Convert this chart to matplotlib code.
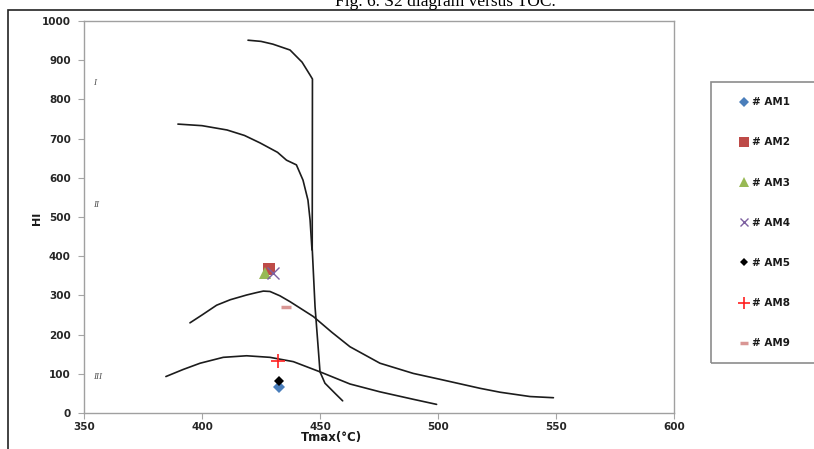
import matplotlib
matplotlib.use("Agg")
import matplotlib.pyplot as plt
from matplotlib.patches import Rectangle
from matplotlib.lines import Line2D

# kerogen type boundary curves (Tmax in degC, HI)
type1_t = [419.5, 425, 430, 437.3, 442.4, 445.8, 446.8, 446.7, 447.9, 449.3, 450.0, 452.1, 456.4, 459.6]
type1_hi = [951, 948, 941, 926, 895, 862, 852, 420, 271, 161, 105, 76, 50, 31]

type2_t = [389.8, 400, 410.6, 418, 424.6, 432, 435.8, 440, 442.8, 444.9, 445.8, 446.6]
type2_hi = [737, 733, 722, 708, 689, 665, 645, 633, 594, 543, 492, 416]

type23_t = [394.9, 400, 406.2, 412, 418.9, 423, 426, 428.8, 433, 437.3, 447.2, 455, 462.7, 475.4,
            489.5, 500.8, 517.8, 526.3, 539, 548.9]
type23_hi = [230, 250, 275, 289, 301, 307, 311, 310, 299, 284, 246, 206, 169, 127, 101, 86, 63, 53, 42, 39]

type3_t = [384.7, 392, 399.2, 409, 418.9, 428.8, 438.7, 450.0, 462.7, 475.4, 489.5, 499.4]
type3_hi = [93, 111, 127, 142, 146, 142, 131, 105, 74, 54, 35, 22]

# samples
samples = ["# AM1", "# AM2", "# AM3", "# AM4", "# AM5", "# AM8", "# AM9"]
tmax = [432.8, 428.5, 426.7, 430.2, 432.8, 432.4, 435.5]
hi = [67, 367, 358, 356, 82, 133, 270]

styles = [
    dict(marker="D", color="#4a7ebb", ms=6.5, mew=0),
    dict(marker="s", color="#be4b48", ms=8.5, mew=0),
    dict(marker="^", color="#98b954", ms=8.5, mew=0),
    dict(marker="x", color="#7d60a0", ms=8, mew=1.0),
    dict(marker="D", color="#000000", ms=5.5, mew=0),
    dict(marker="+", color="#ff2020", ms=10, mew=1.2),
    dict(marker="_", color="#d99694", ms=7, mew=2.5),
]

zones = ["I", "II", "III"]
zone_hi = [842, 530, 92]

W, H = 814, 449
fig = plt.figure(figsize=(W / 100, H / 100), dpi=100)
ax = fig.add_axes([84 / W, 1 - 413 / H, 590 / W, 392 / H])

curve_kw = dict(color="#1c1c1c", lw=1.2, solid_capstyle="round", solid_joinstyle="round", zorder=2)
for t, h in [(type1_t, type1_hi), (type2_t, type2_hi), (type23_t, type23_hi), (type3_t, type3_hi)]:
    ax.plot(t, h, **curve_kw)

handles = []
for name, t, h, st in zip(samples, tmax, hi, styles):
    ax.plot([t], [h], ls="none", zorder=3, **st)
    handles.append(Line2D([], [], ls="none", marker=st["marker"], color=st["color"],
                          ms=st["ms"] * 0.8, mew=st["mew"]))

for z, h in zip(zones, zone_hi):
    ax.text(353.8, h, z, fontsize=6.5, family="Liberation Serif", style="italic",
            color="#555555", va="center", ha="left")

ax.set_xlim(350, 600)
ax.set_ylim(0, 1000)
ax.set_xticks(range(350, 601, 50))
ax.set_yticks(range(0, 1001, 100))

tick_font = dict(family="DejaVu Sans", weight="bold", size=7.5)
for lbl in ax.get_xticklabels() + ax.get_yticklabels():
    lbl.set_fontproperties(matplotlib.font_manager.FontProperties(**tick_font))
    lbl.set_color("#262626")
ax.tick_params(axis="both", direction="out", length=4.5, width=0.8, color="#a6a6a6")
ax.tick_params(axis="y", pad=5)
ax.tick_params(axis="x", pad=2)
for sp in ax.spines.values():
    sp.set_color("#a0a0a0")
    sp.set_linewidth(1.0)

fig.text(37 / W, 1 - 218 / H, "HI", rotation=90, ha="center", va="center",
         fontsize=8, weight="bold", color="#1a1a1a")
fig.text(331 / W, 1 - 438 / H, "Tmax(°C)", ha="center", va="center",
         fontsize=8.5, weight="bold", color="#1a1a1a")

# legend panel on the right
fig.add_artist(Rectangle((711 / W, 1 - 363 / H), 200 / W, 281 / H, transform=fig.transFigure,
                         fill=False, edgecolor="#8c8c8c", lw=1.2, clip_on=False))
leg = fig.legend(handles, samples, loc="upper left", bbox_to_anchor=(735 / W, 1 - 92 / H),
                 frameon=False, handlelength=0.8, handletextpad=0.35, labelspacing=2.9,
                 borderpad=0, prop=dict(weight="bold", size=7.5))
for txt in leg.get_texts():
    txt.set_color("#1a1a1a")

# outer frame and caption
fig.add_artist(Rectangle((8 / W, -0.2), 1.5, 1.2 - 10 / H, transform=fig.transFigure,
                         fill=False, edgecolor="#222222", lw=1.2, clip_on=False))
fig.text(445 / W, 1 - 6 / H, "Fig. 6. S2 diagram versus TOC.", ha="center", va="baseline",
         fontsize=12.5, family="Liberation Serif", color="black")

fig.savefig("out.png", dpi=100)
